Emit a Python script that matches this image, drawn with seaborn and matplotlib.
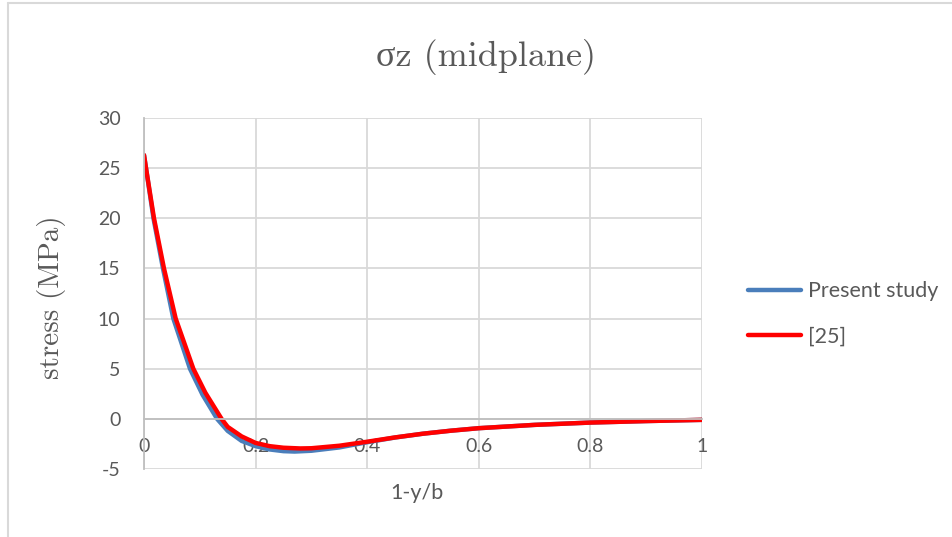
import matplotlib
matplotlib.use("Agg")
import matplotlib.pyplot as plt
from matplotlib.lines import Line2D
import seaborn as sns
import pandas as pd

# ---- data ----
x_present = [0.0, 0.0036, 0.017, 0.034, 0.0526, 0.0824, 0.105, 0.131, 0.15, 0.175, 0.2, 0.225,
             0.25, 0.27, 0.3, 0.35, 0.4, 0.45, 0.5, 0.55, 0.6, 0.7, 0.8, 0.9, 1.0]
y_present = [26.3, 25.0, 20.0, 15.0, 10.0, 5.0, 2.4, 0.0, -1.2, -2.2, -2.72, -3.05,
             -3.22, -3.26, -3.18, -2.85, -2.33, -1.86, -1.48, -1.18, -0.93, -0.6, -0.37, -0.22, -0.1]
x_ref25 = [0.0, 0.0036, 0.0179, 0.0358, 0.0568, 0.0884, 0.11, 0.139, 0.15, 0.175, 0.2, 0.225,
           0.25, 0.28, 0.3, 0.35, 0.4, 0.45, 0.5, 0.55, 0.6, 0.7, 0.8, 0.9, 1.0]
y_ref25 = [26.3, 25.0, 20.0, 15.0, 10.0, 5.0, 2.6, 0.0, -0.8, -1.75, -2.4, -2.72,
           -2.88, -2.95, -2.93, -2.68, -2.28, -1.85, -1.48, -1.18, -0.93, -0.6, -0.37, -0.22, -0.1]
series_names = ["Present study", "[25]"]
x_ticks = [0, 0.2, 0.4, 0.6, 0.8, 1]
x_tick_labels = ["0", "0.2", "0.4", "0.6", "0.8", "1"]
y_ticks = [-5, 0, 5, 10, 15, 20, 25, 30]
title = "σz (midplane)"
x_label = "1-y/b"
y_label = "stress (MPa)"

df = pd.concat([
    pd.DataFrame({"x": x_present, "y": y_present, "series": series_names[0]}),
    pd.DataFrame({"x": x_ref25, "y": y_ref25, "series": series_names[1]}),
])

sns.set_style("white")
plt.rcParams["font.family"] = ["Lato", "DejaVu Sans"]
plt.rcParams["axes.unicode_minus"] = False

serif = ["cmr10", "Liberation Serif", "DejaVu Sans"]
grey = "#595959"

fig = plt.figure(figsize=(9.52, 5.37), dpi=100)
ax = fig.add_axes([144 / 952, 68 / 537, 558 / 952, 351 / 537])

sns.lineplot(data=df, x="x", y="y", hue="series", palette=["#4a7ebb", "#ff0000"],
             linewidth=3.2, sort=False, estimator=None, ax=ax, legend=True)

ax.set_xlim(0, 1)
ax.set_ylim(-5, 30)
ax.set_xticks(x_ticks)
ax.set_xticklabels(x_tick_labels)
ax.set_yticks(y_ticks)
ax.set_yticklabels([str(v) for v in y_ticks])
ax.grid(True, color="#d9d9d9", linewidth=1.3)
ax.set_axisbelow(True)

for s in ["top", "right"]:
    ax.spines[s].set_visible(False)
ax.spines["bottom"].set_position(("data", 0))
ax.spines["bottom"].set_color("#bfbfbf")
ax.spines["bottom"].set_linewidth(1.3)
ax.spines["left"].set_color("#bfbfbf")
ax.spines["left"].set_linewidth(1.3)
ax.tick_params(axis="both", length=0, labelsize=14, labelcolor=grey)
ax.tick_params(axis="x", pad=14)
ax.tick_params(axis="y", pad=17)

ax.set_xlabel(x_label, fontsize=15.5, color=grey)
ax.xaxis.set_label_coords(0.49, -0.04)
ax.xaxis.label.set_verticalalignment("top")
ax.set_ylabel(y_label, fontsize=21, color=grey, family=serif)
ax.yaxis.set_label_coords(-0.14, 0.49)

fig.text(486 / 952, 1 - 57 / 537, title, ha="center", va="center", fontsize=26,
         color=grey, family=serif)

leg = ax.legend(loc="center left", bbox_to_anchor=(1.067, 0.4416), frameon=False,
                borderaxespad=0, fontsize=15.5, labelspacing=1.2, handlelength=2.46,
                handletextpad=0.33)
for t in leg.get_texts():
    t.set_color(grey)

# chart-area border (top and left edges visible in reference)
fig.add_artist(Line2D([8 / 952, 1], [1 - 3 / 537, 1 - 3 / 537], color="#d9d9d9", linewidth=1.5,
                      transform=fig.transFigure))
fig.add_artist(Line2D([8 / 952, 8 / 952], [0, 1 - 3 / 537], color="#d9d9d9", linewidth=1.5,
                      transform=fig.transFigure))

fig.savefig("out.png", dpi=100, facecolor="white")
